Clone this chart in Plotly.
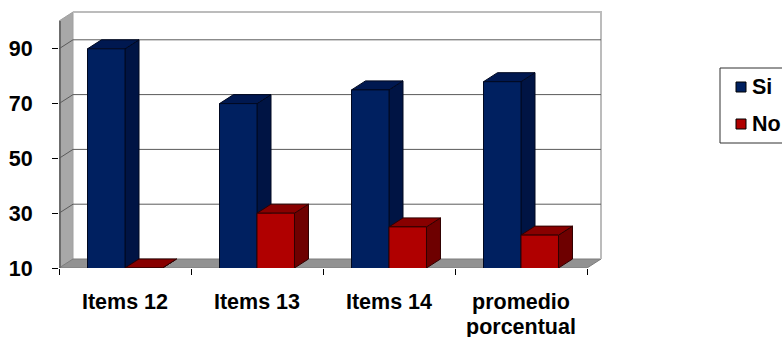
import plotly.graph_objects as go

# Chart data
categories = ["Items 12", "Items 13", "Items 14", "promedio<br>porcentual"]
si_values = [90, 70, 75, 78]
no_values = [10, 30, 25, 22]
y_ticks = [10, 30, 50, 70, 90]

# Colours of the three visible faces of each bar: front, side, top
SI_FACES = ("#002060", "#001444", "#001850")
NO_FACES = ("#b00000", "#6e0000", "#880000")
FONT = "Liberation Sans"
TEXT = "#000000"
FONT_SIZE = 21.5

# Canvas and plot box, in pixels
W, H = 782, 337
L, R, T, B = 59, 603, 9, 268
WALL_TOP_PX = 12      # upper edge of the back wall
CAT_PX = 132          # width of one category on the front plane
DEPTH_PX = (14, 9)    # shift from the front plane to the back wall
UNIT_PX = 54.8 / 20   # pixels per value unit
BARGAP = 0.432
LINE_PX = 25          # baseline distance in two-line category labels

y_min = 10
y_max = y_min + (B - T) / UNIT_PX
wall_top = y_min + (B - WALL_TOP_PX) / UNIT_PX
x_max = (R - L) / CAT_PX
dx = DEPTH_PX[0] / CAT_PX
dy = DEPTH_PX[1] / UNIT_PX
n = len(categories)
bar_w = (1 - BARGAP) / 2


def polygon(points, color, line=None):
    xs = [p[0] for p in points] + [points[0][0]]
    ys = [p[1] for p in points] + [points[0][1]]
    return go.Scatter(
        x=xs, y=ys, mode="lines", fill="toself", fillcolor=color,
        line=dict(color=line or color, width=1), hoverinfo="skip",
        showlegend=False, xaxis="x", yaxis="y",
    )


def polyline(xs, ys, color, width=1):
    return go.Scatter(
        x=xs, y=ys, mode="lines", line=dict(color=color, width=width),
        hoverinfo="skip", showlegend=False, xaxis="x", yaxis="y",
    )


fig = go.Figure()

# Left wall, floor and back wall outline
fig.add_trace(polygon([(0, y_min), (dx, y_min + dy), (dx, wall_top), (0, wall_top - dy)], "#a8a8a8", "#a0a0a0"))
fig.add_trace(polygon([(0, y_min), (n, y_min), (n + dx, y_min + dy), (dx, y_min + dy)], "#929292", "#7c7c7c"))
fig.add_trace(polyline([dx, n + dx, n + dx], [wall_top, wall_top, y_min + dy], "#bcbcbc", 2))
fig.add_trace(polyline([0, 0], [y_min, wall_top - dy], "#6c6c6c", 4))

# Gridlines run along the back wall and fold down the left wall
for v in y_ticks[1:]:
    fig.add_trace(polyline([0, dx, n + dx], [v, v + dy, v + dy], "#5a5a5a", 1))


def bar_faces(left, value, faces, edge):
    right = left + bar_w
    side = polygon([(right, y_min), (right + dx, y_min + dy), (right + dx, value + dy), (right, value)], faces[1], edge)
    cap = polygon([(left, value), (left + dx, value + dy), (right + dx, value + dy), (right, value)], faces[2], edge)
    return side, cap


# Side and top faces: blue series first so the red ones sit in front of it
for i, v in enumerate(si_values):
    for t in bar_faces(i + BARGAP / 2, v, SI_FACES, "#000820"):
        fig.add_trace(t)
for i, v in enumerate(no_values):
    for t in bar_faces(i + BARGAP / 2 + bar_w, v, NO_FACES, "#300000"):
        fig.add_trace(t)

# Front faces sit on an overlaid subplot that shares the same scales
fig.add_trace(go.Bar(name="Si", x=categories, y=si_values, marker=dict(color=SI_FACES[0], line=dict(color="#000820", width=1)), xaxis="x2", yaxis="y2"))
fig.add_trace(go.Bar(name="No", x=categories, y=no_values, marker=dict(color=NO_FACES[0], line=dict(color="#300000", width=1)), xaxis="x2", yaxis="y2"))


def px_x(x):
    return (x - L) / (R - L)


def px_y(y):
    return (B - y) / (B - T)


# Legend box with swatches; its right edge runs off the canvas
shapes = [dict(type="rect", xref="paper", yref="paper", x0=px_x(720), x1=px_x(786), y0=px_y(143), y1=px_y(68),
               line=dict(color="#303030", width=1), fillcolor="#ffffff")]
annotations = []
for name, color, cy in (("Si", SI_FACES[0], 87), ("No", NO_FACES[0], 124)):
    shapes.append(dict(type="rect", xref="paper", yref="paper", x0=px_x(736), x1=px_x(746), y0=px_y(cy + 5), y1=px_y(cy - 5),
                       line=dict(color="#000000", width=1), fillcolor=color))
    annotations.append(dict(text=f"<b>{name}</b>", xref="paper", yref="paper", x=px_x(750), y=px_y(cy), xanchor="left", yanchor="middle",
                            showarrow=False, font=dict(family=FONT, size=FONT_SIZE, color=TEXT)))

# Second lines of category labels are set separately for tighter leading
for i, c in enumerate(categories):
    for k, extra in enumerate(c.split("<br>")[1:], start=1):
        annotations.append(dict(text=f"<b>{extra}</b>", xref="x", yref="paper", x=i + 0.5, y=px_y(302 + k * LINE_PX),
                                xanchor="center", yanchor="middle", showarrow=False,
                                font=dict(family=FONT, size=FONT_SIZE, color=TEXT)))

fig.update_layout(
    width=W, height=H,
    margin=dict(l=L, r=W - R, t=T, b=H - B, pad=0),
    paper_bgcolor="#ffffff", plot_bgcolor="rgba(0,0,0,0)",
    showlegend=False, barmode="group", bargap=BARGAP, bargroupgap=0,
    font=dict(family=FONT, size=FONT_SIZE, color=TEXT),
    shapes=shapes, annotations=annotations,
    xaxis=dict(automargin=False, range=[0, x_max], tickmode="array", tickvals=list(range(n + 1)), ticktext=[""] * (n + 1),
               ticks="outside", ticklen=6, tickcolor="#000000", showgrid=False, zeroline=False,
               showline=False),
    yaxis=dict(automargin=False, range=[y_min, y_max], tickmode="array", tickvals=y_ticks, ticktext=[f"<b>{v}</b>" for v in y_ticks],
               ticks="outside", ticklen=6, tickcolor="#000000", showgrid=False, zeroline=False, showline=False,
               ticklabelstandoff=15, tickfont=dict(family=FONT, size=FONT_SIZE, color=TEXT)),
    xaxis2=dict(automargin=False, overlaying="x", anchor="y2", type="category", categoryorder="array", categoryarray=categories,
                range=[-0.5, x_max - 0.5], ticks="", showgrid=False, zeroline=False, showline=False,
                tickmode="array", tickvals=categories, ticktext=[f"<b>{c.split('<br>')[0]}</b>" for c in categories],
                tickangle=0, ticklabelstandoff=18, tickfont=dict(family=FONT, size=FONT_SIZE, color=TEXT)),
    yaxis2=dict(automargin=False, overlaying="y", anchor="x2", range=[y_min, y_max], visible=False),
)

fig.write_html("out.html")
